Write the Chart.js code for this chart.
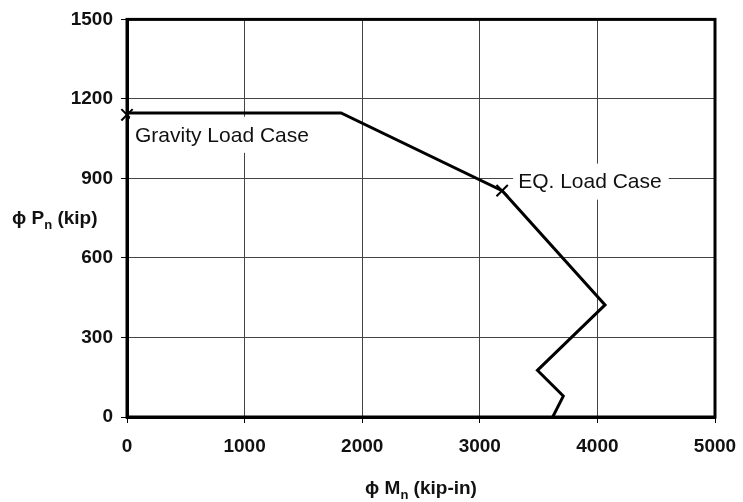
<!DOCTYPE html>
<html>
<head>
<meta charset="utf-8">
<script src="https://cdn.jsdelivr.net/npm/chart.js@4.4.1/dist/chart.umd.min.js"></script>
<style>
  html, body { margin: 0; padding: 0; background: #fff; }
  #wrap { width: 743px; height: 502px; }
</style>
</head>
<body>
<div id="wrap"><canvas id="chart" width="743" height="502"></canvas></div>
<script>
// interaction curve (phi Mn, phi Pn)
const momentVals = [0, 1820, 3190, 4065, 3490, 3710, 3620];
const loadVals = [1147, 1147, 854, 423, 176, 79, 0];

// load cases marked with an x
const caseMoment = [0, 3190];
const caseLoad = [1140, 854];
const caseLabels = ['Gravity Load Case', 'EQ. Load Case'];

const xTicks = [0, 1000, 2000, 3000, 4000, 5000];
const yTicks = [0, 300, 600, 900, 1200, 1500];

const curvePts = momentVals.map((m, i) => ({ x: m, y: loadVals[i] }));
const casePts = caseMoment.map((m, i) => ({ x: m, y: caseLoad[i] }));

// label placement relative to its marker (px)
const labelOffsets = [{ dx: 8, dy: 20 }, { dx: 16, dy: -9 }];

const FONT = '"Liberation Sans", Arial, sans-serif';

const annotPlugin = {
  id: 'annot',
  beforeDatasetsDraw(chart) {
    const { ctx, chartArea } = chart;
    ctx.save();
    ctx.strokeStyle = '#000';
    ctx.lineWidth = 3;
    ctx.strokeRect(chartArea.left, chartArea.top, chartArea.right - chartArea.left, chartArea.bottom - chartArea.top);
    ctx.restore();
  },
  afterDatasetsDraw(chart) {
    const { ctx, scales } = chart;
    ctx.save();
    // case labels with white box behind
    ctx.font = '21px ' + FONT;
    ctx.textBaseline = 'middle';
    ctx.textAlign = 'left';
    caseLabels.forEach((txt, i) => {
      const px = scales.x.getPixelForValue(caseMoment[i]) + labelOffsets[i].dx;
      const py = scales.y.getPixelForValue(caseLoad[i]) + labelOffsets[i].dy;
      const w = ctx.measureText(txt).width;
      ctx.fillStyle = '#fff';
      ctx.fillRect(px - 5, py - 18, w + 12, 36);
      ctx.fillStyle = '#111';
      ctx.fillText(txt, px, py + 1);
    });
    ctx.restore();
  },
  afterDraw(chart) {
    const { ctx } = chart;
    ctx.save();
    ctx.fillStyle = '#111';
    ctx.textBaseline = 'alphabetic';
    const drawSub = (x, y, pre, sub, post, align) => {
      const big = 'bold 19px ' + FONT;
      const small = 'bold 13px ' + FONT;
      ctx.font = big;
      const w1 = ctx.measureText(pre).width;
      const w3 = ctx.measureText(post).width;
      ctx.font = small;
      const w2 = ctx.measureText(sub).width;
      const sx = align === 'center' ? x - (w1 + w2 + w3) / 2 : x;
      ctx.textAlign = 'left';
      ctx.font = big;
      ctx.fillText(pre, sx, y);
      ctx.font = small;
      ctx.fillText(sub, sx + w1, y + 5);
      ctx.font = big;
      ctx.fillText(post, sx + w1 + w2, y);
    };
    drawSub(421, 494, '\u03D5 M', 'n', ' (kip-in)', 'center');
    drawSub(12, 224, '\u03D5 P', 'n', ' (kip)', 'left');
    ctx.restore();
  }
};

new Chart(document.getElementById('chart'), {
  type: 'scatter',
  data: {
    datasets: [
      {
        label: 'Interaction',
        data: curvePts,
        showLine: true,
        borderColor: '#000',
        borderWidth: 3,
        pointRadius: 0,
        tension: 0
      },
      {
        label: 'Load cases',
        data: casePts,
        showLine: false,
        clip: false,
        pointStyle: 'crossRot',
        pointRadius: 8,
        borderColor: '#000',
        borderWidth: 2
      }
    ]
  },
  options: {
    responsive: false,
    animation: false,
    layout: { padding: { top: 17, right: 0, left: 0, bottom: 0 } },
    plugins: { legend: { display: false }, tooltip: { enabled: false } },
    scales: {
      x: {
        type: 'linear',
        min: 0,
        max: 5000,
        afterBuildTicks: s => { s.ticks = xTicks.map(v => ({ value: v })); },
        afterFit: s => { s.height = 85; s.paddingRight = 28; s.paddingLeft = 0; },
        grid: { color: '#444', lineWidth: 1, tickLength: 6, tickColor: '#000' },
        border: { display: true, color: '#000', width: 3 },
        ticks: {
          color: '#111',
          padding: 12,
          maxRotation: 0,
          callback: v => String(v),
          font: { family: FONT, size: 19, weight: 'bold' }
        }
      },
      y: {
        type: 'linear',
        min: 0,
        max: 1500,
        afterBuildTicks: s => { s.ticks = yTicks.map(v => ({ value: v })); },
        afterFit: s => { s.width = 127; },
        grid: { color: '#444', lineWidth: 1, tickLength: 6, tickColor: '#000' },
        border: { display: true, color: '#000', width: 3 },
        ticks: {
          color: '#111',
          padding: 8,
          callback: v => String(v),
          font: { family: FONT, size: 19, weight: 'bold' }
        }
      }
    }
  },
  plugins: [annotPlugin]
});
</script>
</body>
</html>
